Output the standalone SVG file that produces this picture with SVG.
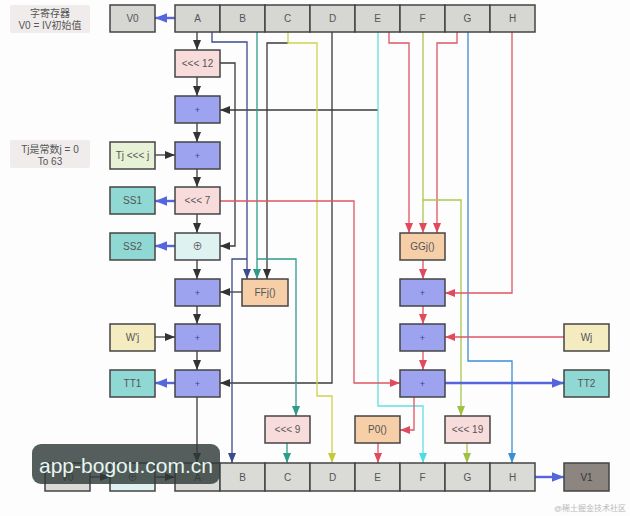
<svg xmlns="http://www.w3.org/2000/svg" width="630" height="516" viewBox="0 0 630 516">
<style>
text{font-family:"Liberation Sans","Noto Sans CJK SC",sans-serif;font-size:10px;fill:#555;text-anchor:middle;dominant-baseline:central}
.box{stroke:#444;stroke-width:1.5}
.reg{fill:#d6d6d3}
.regb{fill:#dadad7}
.pink{fill:#f8dcdc}
.add{fill:#9ea3ef}
.xor{fill:#dff2f2}
.grn{fill:#e6f1d6}
.teal{fill:#8fd8d3}
.yel{fill:#f4ebc0}
.org{fill:#f6cfa8}
.lbl{fill:#efeceb}
.c path{fill:none;stroke-width:1.3}
.k{stroke:#3a3a3a}
.nv{stroke:#3d4a8c}
.tl{stroke:#2e9c88}
.cy{stroke:#62dfe6}
.yl{stroke:#cfd24a}
.rd{stroke:#e05565}
.gn{stroke:#a9c84c}
.bl{stroke:#3a8ed8}
.ob{stroke:#5566dd;stroke-width:2.4!important}
.plus{fill:#3a44a0;font-size:9px}
</style>
<defs>
<marker id="mk" markerUnits="userSpaceOnUse" markerWidth="10" markerHeight="10" viewBox="0 0 10 10" refX="10" refY="5" orient="auto"><path d="M0,1 L10,5 L0,9 z" fill="#333"/></marker>
<marker id="mnv" markerUnits="userSpaceOnUse" markerWidth="10" markerHeight="10" viewBox="0 0 10 10" refX="10" refY="5" orient="auto"><path d="M0,1 L10,5 L0,9 z" fill="#3d4a8c"/></marker>
<marker id="mtl" markerUnits="userSpaceOnUse" markerWidth="10" markerHeight="10" viewBox="0 0 10 10" refX="10" refY="5" orient="auto"><path d="M0,1 L10,5 L0,9 z" fill="#2e9c88"/></marker>
<marker id="mcy" markerUnits="userSpaceOnUse" markerWidth="10" markerHeight="10" viewBox="0 0 10 10" refX="10" refY="5" orient="auto"><path d="M0,1 L10,5 L0,9 z" fill="#4fdbe3"/></marker>
<marker id="myl" markerUnits="userSpaceOnUse" markerWidth="10" markerHeight="10" viewBox="0 0 10 10" refX="10" refY="5" orient="auto"><path d="M0,1 L10,5 L0,9 z" fill="#c5c83a"/></marker>
<marker id="mrd" markerUnits="userSpaceOnUse" markerWidth="10" markerHeight="10" viewBox="0 0 10 10" refX="10" refY="5" orient="auto"><path d="M0,1 L10,5 L0,9 z" fill="#e04a5c"/></marker>
<marker id="mgn" markerUnits="userSpaceOnUse" markerWidth="10" markerHeight="10" viewBox="0 0 10 10" refX="10" refY="5" orient="auto"><path d="M0,1 L10,5 L0,9 z" fill="#a0c040"/></marker>
<marker id="mbl" markerUnits="userSpaceOnUse" markerWidth="10" markerHeight="10" viewBox="0 0 10 10" refX="10" refY="5" orient="auto"><path d="M0,1 L10,5 L0,9 z" fill="#3a8ed8"/></marker>
<marker id="mob" markerUnits="userSpaceOnUse" markerWidth="12" markerHeight="12" viewBox="0 0 10 10" refX="10" refY="5" orient="auto"><path d="M0,1 L10,5 L0,9 z" fill="#5566dd"/></marker>
</defs>
<rect width="630" height="516" fill="#fdfdfd"/>

<g id="connectors" class="c">
<path class="k" d="M197,32 V50" marker-end="url(#mk)"/>
<path class="k" d="M197,77 V96" marker-end="url(#mk)"/>
<path class="k" d="M197,123 V142" marker-end="url(#mk)"/>
<path class="k" d="M197,168 V187" marker-end="url(#mk)"/>
<path class="k" d="M197,214 V233" marker-end="url(#mk)"/>
<path class="k" d="M197,260 V279" marker-end="url(#mk)"/>
<path class="k" d="M197,306 V324" marker-end="url(#mk)"/>
<path class="k" d="M197,351 V370" marker-end="url(#mk)"/>
<path class="k" d="M197,397 V463" marker-end="url(#mk)"/>
<path class="k" d="M220,63 H235 V246 H220" marker-end="url(#mk)"/>
<path class="k" d="M378,110 H220" marker-end="url(#mk)"/>
<path class="k" d="M155,155 H175" marker-end="url(#mk)"/>
<path class="k" d="M242,292 H220" marker-end="url(#mk)"/>
<path class="k" d="M155,337 H175" marker-end="url(#mk)"/>
<path class="k" d="M332,32 V383 H220" marker-end="url(#mk)"/>
<path class="k" d="M288,43 H267 V279" marker-end="url(#mk)"/>
<path class="k" d="M90,477 H110" marker-end="url(#mk)"/>
<path class="k" d="M155,477 H175" marker-end="url(#mk)"/>
<path class="nv" d="M212,32 V42 H247 V279" marker-end="url(#mnv)"/>
<path class="nv" d="M247,259 H232 V463" marker-end="url(#mnv)"/>
<path class="tl" d="M257,32 V279" marker-end="url(#mtl)"/>
<path class="tl" d="M257,259 H296 V416" marker-end="url(#mtl)"/>
<path class="tl" d="M287,443 V463" marker-end="url(#mtl)"/>
<path class="yl" d="M288,32 V43 H317 V396 H332 V463" marker-end="url(#myl)"/>
<path class="cy" d="M378,32 V406 H423 V463" marker-end="url(#mcy)"/>
<path class="rd" d="M389,32 V43 H409 V233" marker-end="url(#mrd)"/>
<path class="gn" d="M423,32 V233" marker-end="url(#mrd)"/>
<path class="rd" d="M457,32 V43 H437 V233" marker-end="url(#mrd)"/>
<path class="gn" d="M423,200 H461 V416" marker-end="url(#mgn)"/>
<path class="gn" d="M467,443 V463" marker-end="url(#mgn)"/>
<path class="bl" d="M468,32 V361 H512 V463" marker-end="url(#mbl)"/>
<path class="rd" d="M512,32 V293 H445" marker-end="url(#mrd)"/>
<path class="rd" d="M220,201 H354 V383 H400" marker-end="url(#mrd)"/>
<path class="rd" d="M423,260 V279" marker-end="url(#mrd)"/>
<path class="rd" d="M423,306 V324" marker-end="url(#mrd)"/>
<path class="rd" d="M423,351 V370" marker-end="url(#mrd)"/>
<path class="rd" d="M564,337 H445" marker-end="url(#mrd)"/>
<path class="rd" d="M414,397 V430 H400" marker-end="url(#mrd)"/>
<path class="rd" d="M378,443 V463" marker-end="url(#mrd)"/>
<path class="ob" d="M175,18 H155" marker-end="url(#mob)"/>
<path class="ob" d="M175,201 H155" marker-end="url(#mob)"/>
<path class="ob" d="M175,246 H155" marker-end="url(#mob)"/>
<path class="ob" d="M175,383 H155" marker-end="url(#mob)"/>
<path class="ob" d="M445,383 H564" marker-end="url(#mob)"/>
<path class="ob" d="M535,477 H564" marker-end="url(#mob)"/>
</g>

<g id="label-regs"><rect class="lbl" x="10" y="5" width="80" height="28" rx="2"/><text x="50" y="13">字寄存器</text><text x="50" y="25">V0 = IV初始值</text></g>
<g id="label-tj"><rect class="lbl" x="10" y="140" width="80" height="28" rx="2"/><text x="50" y="149">Tj是常数j = 0</text><text x="50" y="161">To 63</text></g>

<g id="top-V0"><rect class="box reg" x="110" y="5" width="45" height="27"/><text x="132.5" y="18.5">V0</text></g>
<g id="top-A"><rect class="box reg" x="175" y="5" width="45" height="27"/><text x="197.5" y="18.5">A</text></g>
<g id="top-B"><rect class="box reg" x="220" y="5" width="45" height="27"/><text x="242.5" y="18.5">B</text></g>
<g id="top-C"><rect class="box reg" x="265" y="5" width="45" height="27"/><text x="287.5" y="18.5">C</text></g>
<g id="top-D"><rect class="box reg" x="310" y="5" width="45" height="27"/><text x="332.5" y="18.5">D</text></g>
<g id="top-E"><rect class="box reg" x="355" y="5" width="45" height="27"/><text x="377.5" y="18.5">E</text></g>
<g id="top-F"><rect class="box reg" x="400" y="5" width="45" height="27"/><text x="422.5" y="18.5">F</text></g>
<g id="top-G"><rect class="box reg" x="445" y="5" width="45" height="27"/><text x="467.5" y="18.5">G</text></g>
<g id="top-H"><rect class="box reg" x="490" y="5" width="45" height="27"/><text x="512.5" y="18.5">H</text></g>

<g id="rot12"><rect class="box pink" x="175" y="50" width="45" height="27"/><text x="197.5" y="63.5">&lt;&lt;&lt; 12</text></g>
<g id="add1"><rect class="box add" x="175" y="96" width="45" height="27"/><text class="plus" x="197.5" y="109.5">+</text></g>
<g id="add2"><rect class="box add" x="175" y="142" width="45" height="27"/><text class="plus" x="197.5" y="155.5">+</text></g>
<g id="rot7"><rect class="box pink" x="175" y="187" width="45" height="27"/><text x="197.5" y="200.5">&lt;&lt;&lt; 7</text></g>
<g id="xor"><rect class="box xor" x="175" y="233" width="45" height="27"/><text x="197.5" y="246.5">⊕</text></g>
<g id="add3"><rect class="box add" x="175" y="279" width="45" height="27"/><text class="plus" x="197.5" y="292.5">+</text></g>
<g id="add4"><rect class="box add" x="175" y="324" width="45" height="27"/><text class="plus" x="197.5" y="337.5">+</text></g>
<g id="add5"><rect class="box add" x="175" y="370" width="45" height="27"/><text class="plus" x="197.5" y="383.5">+</text></g>

<g id="tj"><rect class="box grn" x="110" y="142" width="45" height="27"/><text x="132.5" y="155.5">Tj &lt;&lt;&lt; j</text></g>
<g id="ss1"><rect class="box teal" x="110" y="187" width="45" height="27"/><text x="132.5" y="200.5">SS1</text></g>
<g id="ss2"><rect class="box teal" x="110" y="233" width="45" height="27"/><text x="132.5" y="246.5">SS2</text></g>
<g id="wpj"><rect class="box yel" x="110" y="324" width="45" height="27"/><text x="132.5" y="337.5">W'j</text></g>
<g id="tt1"><rect class="box teal" x="110" y="370" width="45" height="27"/><text x="132.5" y="383.5">TT1</text></g>

<g id="ffj"><rect class="box org" x="242" y="279" width="46" height="27"/><text x="265" y="292.5">FFj()</text></g>
<g id="ggj"><rect class="box org" x="400" y="233" width="45" height="27"/><text x="422.5" y="246.5">GGj()</text></g>
<g id="radd1"><rect class="box add" x="400" y="279" width="45" height="27"/><text class="plus" x="422.5" y="292.5">+</text></g>
<g id="radd2"><rect class="box add" x="400" y="324" width="45" height="27"/><text class="plus" x="422.5" y="337.5">+</text></g>
<g id="radd3"><rect class="box add" x="400" y="370" width="45" height="27"/><text class="plus" x="422.5" y="383.5">+</text></g>
<g id="wj"><rect class="box yel" x="564" y="324" width="45" height="27"/><text x="586.5" y="337.5">Wj</text></g>
<g id="tt2"><rect class="box teal" x="564" y="370" width="45" height="27"/><text x="586.5" y="383.5">TT2</text></g>

<g id="rot9"><rect class="box pink" x="265" y="416" width="45" height="27"/><text x="287.5" y="429.5">&lt;&lt;&lt; 9</text></g>
<g id="p0"><rect class="box org" x="355" y="416" width="45" height="27"/><text x="377.5" y="429.5">P0()</text></g>
<g id="rot19"><rect class="box pink" x="445" y="416" width="45" height="27"/><text x="467.5" y="429.5">&lt;&lt;&lt; 19</text></g>

<g id="bot-V0"><rect class="box regb" x="45" y="463" width="45" height="28"/><text x="67.5" y="477">V0</text></g>
<g id="bot-xor"><rect class="box xor" x="110" y="463" width="45" height="28"/><text x="132.5" y="477">⊕</text></g>
<g id="bot-A"><rect class="box regb" x="175" y="463" width="45" height="28"/><text x="197.5" y="477">A</text></g>
<g id="bot-B"><rect class="box regb" x="220" y="463" width="45" height="28"/><text x="242.5" y="477">B</text></g>
<g id="bot-C"><rect class="box regb" x="265" y="463" width="45" height="28"/><text x="287.5" y="477">C</text></g>
<g id="bot-D"><rect class="box regb" x="310" y="463" width="45" height="28"/><text x="332.5" y="477">D</text></g>
<g id="bot-E"><rect class="box regb" x="355" y="463" width="45" height="28"/><text x="377.5" y="477">E</text></g>
<g id="bot-F"><rect class="box regb" x="400" y="463" width="45" height="28"/><text x="422.5" y="477">F</text></g>
<g id="bot-G"><rect class="box regb" x="445" y="463" width="45" height="28"/><text x="467.5" y="477">G</text></g>
<g id="bot-H"><rect class="box regb" x="490" y="463" width="45" height="28"/><text x="512.5" y="477">H</text></g>
<g id="bot-V1"><rect class="box" fill="#8c8580" x="564" y="463" width="45" height="28"/><text x="586.5" y="477" style="fill:#3a3431">V1</text></g>

<g id="watermark">
<rect x="32" y="444" width="188" height="40" rx="9" fill="#2f3a38" fill-opacity="0.82"/>
<text x="126" y="465" style="font-size:21px;fill:#e6f6f0">app-bogou.com.cn</text>
<text x="590" y="508" style="font-size:8px;fill:#b8b8b8">@稀土掘金技术社区</text>
</g>
</svg>
